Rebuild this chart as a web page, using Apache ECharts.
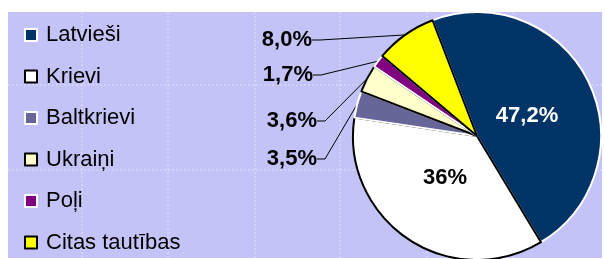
<!DOCTYPE html>
<html>
<head>
<meta charset="utf-8">
<script src="https://cdn.jsdelivr.net/npm/echarts@6/dist/echarts.min.js"></script>
<style>
  html, body { margin: 0; padding: 0; background: #fff; }
  #chart { width: 604px; height: 259px; }
</style>
</head>
<body>
<div id="chart"></div>
<script>
// data
const categories = ["Latvieši", "Krievi", "Baltkrievi", "Ukraiņi", "Poļi", "Citas tautības"];
const shares = [47.2, 36, 3.5, 3.6, 1.7, 8.0];
const shareLabels = ["47,2%", "36%", "3,5%", "3,6%", "1,7%", "8,0%"];

// looks
const fillColors = ["#003366", "#ffffff", "#666699", "#ffffcc", "#800080", "#ffff00"];
const edgeColors = ["#ffffff", "#000000", "#ffffff", "#000000", "#ffffff", "#000000"];
const insideLabelColors = ["#ffffff", "#000000"];
// label anchors as in the original (x, middle y), by data index
const labelPos = {
  0: [527, 116, "center"],
  1: [445, 178, "center"],
  2: [317, 159, "right"],
  3: [317, 121, "right"],
  4: [313, 75, "right"],
  5: [312, 40, "right"]
};

const chart = echarts.init(document.getElementById("chart"), null, { renderer: "canvas" });

// faint dashed gridlines of the excel plot area
const gridLines = [];
[82, 168, 255, 340, 427, 513].forEach(x => {
  gridLines.push({ type: "line", z: -9, silent: true,
    shape: { x1: x, y1: 12, x2: x, y2: 258 },
    style: { stroke: "rgba(255,255,255,0.55)", lineWidth: 1, lineDash: [2, 2] } });
});
[85, 170].forEach(y => {
  gridLines.push({ type: "line", z: -9, silent: true,
    shape: { x1: 8, y1: y, x2: 602, y2: y },
    style: { stroke: "rgba(255,255,255,0.55)", lineWidth: 1, lineDash: [2, 2] } });
});

const pieData = categories.map((name, i) => {
  const item = {
    name: name,
    value: shares[i],
    itemStyle: { color: fillColors[i], borderColor: edgeColors[i], borderWidth: 2 }
  };
  if (i < 2) {
    item.label = { position: "inside", color: insideLabelColors[i] };
    item.labelLine = { show: false };
  }
  return item;
});

const option = {
  animation: false,
  backgroundColor: "#ffffff",
  graphic: [
    { type: "rect", z: -10, silent: true,
      shape: { x: 8, y: 12, width: 594, height: 246 },
      style: { fill: "#c3c3f7" } }
  ].concat(gridLines),
  legend: {
    orient: "vertical",
    left: 24,
    top: 24,
    padding: 0,
    icon: "rect",
    itemWidth: 12,
    itemHeight: 12,
    itemGap: 19.5,
    data: categories,
    textStyle: {
      fontFamily: "Liberation Sans, Arial, sans-serif",
      fontSize: 22,
      lineHeight: 22,
      color: "#000",
      padding: [0, 0, 0, 4]
    }
  },
  series: [
    {
      type: "pie",
      center: [477, 136],
      radius: 124,
      startAngle: 111,
      clockwise: true,
      data: pieData,
      label: {
        show: true,
        position: "outside",
        fontFamily: "Liberation Sans, Arial, sans-serif",
        fontSize: 22,
        fontWeight: "bold",
        color: "#000",
        formatter: p => shareLabels[p.dataIndex]
      },
      labelLine: {
        show: true,
        length: 8,
        length2: 8,
        smooth: false,
        lineStyle: { color: "#000", width: 1 }
      },
      labelLayout: function (params) {
        const pos = labelPos[params.dataIndex];
        if (!pos) return {};
        return { x: pos[0], y: pos[1], align: pos[2], verticalAlign: "middle" };
      },
      emphasis: { disabled: true }
    }
  ]
};

chart.setOption(option);
</script>
</body>
</html>
